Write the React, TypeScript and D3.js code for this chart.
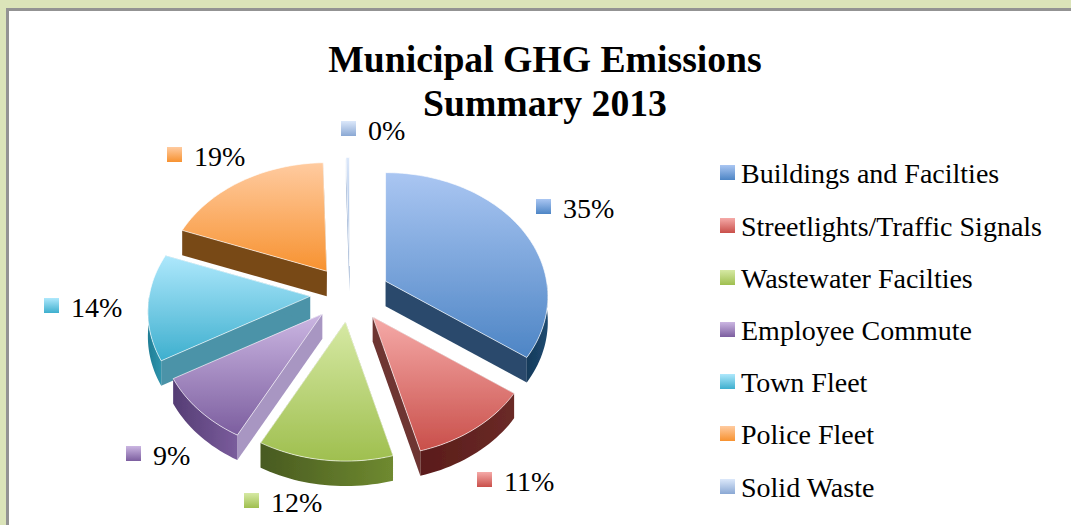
import * as d3 from 'd3';

const title = ['Municipal GHG Emissions', 'Summary 2013'];
const categories = [
  'Buildings and Facilties',
  'Streetlights/Traffic Signals',
  'Wastewater Facilties',
  'Employee Commute',
  'Town Fleet',
  'Police Fleet',
  'Solid Waste',
];
const shares = [35, 11, 12, 9, 14, 19, 0.4];

const topLight = ['#aac6f2', '#f5aaa8', '#d6e9a4', '#cbb6e2', '#aee8fc', '#ffcba0', '#dce8fa'];
const topDark = ['#4d85c5', '#c94f4a', '#9fbf4f', '#7c5e9f', '#3eafce', '#f79230', '#8aa8d4'];
const wallLight = ['#1f4a70', '#6a2a27', '#6f8a30', '#7a5c9c', '#2f94ac', '#7a4a18', '#6f8db8'];
const wallDark = ['#143a5a', '#5a1c1a', '#485a20', '#553d74', '#1f7e96', '#7a4a18', '#6f8db8'];
const cutColors = ['#2a4a6c', '#6e3432', '#5f7a2a', '#a896c2', '#4c93a8', '#784818', '#7d9ac4'];

// where the little label markers sit, same order as categories
const labelSpots = [
  [536, 199],
  [477, 472],
  [244, 493],
  [126, 446],
  [44, 298],
  [167, 147],
  [341, 121],
];
const legendRows = [165, 218, 270, 322, 374, 426, 479];

const cx = 350;
const cy = 294;
const rx = 161;
const ry = 122;
const persp = 0.124;
const explode = 40;
const depth = 25;
const serif = '"Liberation Serif", serif';

type Pt = [number, number];

const project = (a: number, r: number, ox: number, oy: number, dz = 0): Pt => {
  const v = r * Math.cos(a);
  const w = 1 / (1 + persp * v);
  return [cx + ox + rx * r * Math.sin(a) * w, cy + oy - ry * v * w + dz];
};

const line = d3.line<Pt>().curve(d3.curveLinear);

const sampleArc = (a0: number, a1: number) => {
  const n = Math.max(2, Math.ceil((a1 - a0) / 0.03));
  return d3.range(n + 1).map((i) => a0 + ((a1 - a0) * i) / n);
};

const pie = d3
  .pie<number>()
  .sort(null)
  .value((d) => d);
const arcs = pie(shares);
const total = d3.sum(shares);
const pct = d3.format('.0%');

const drawOrder = arcs
  .map((d, i) => ({ d, i, mid: (d.startAngle + d.endAngle) / 2 }))
  .sort((a, b) => Math.cos(b.mid) - Math.cos(a.mid));

const Slice = ({ d, i, mid }: { d: d3.PieArcDatum<number>; i: number; mid: number }) => {
  const ox = explode * Math.sin(mid);
  const oy = -explode * 0.7 * Math.cos(mid);
  const apex = project(0, 0, ox, oy);
  const apexLow = project(0, 0, ox, oy, depth);
  const rim = sampleArc(d.startAngle, d.endAngle).map((a) => project(a, 1, ox, oy));

  const cutFace = (a: number) =>
    line([apex, project(a, 1, ox, oy), project(a, 1, ox, oy, depth), apexLow])! + 'Z';

  const wallFrom = Math.max(d.startAngle, Math.PI / 2);
  const wallTo = Math.min(d.endAngle, (3 * Math.PI) / 2);
  let wall = '';
  if (wallTo > wallFrom) {
    const angles = sampleArc(wallFrom, wallTo);
    const upper = angles.map((a) => project(a, 1, ox, oy));
    const lower = angles.map((a) => project(a, 1, ox, oy, depth)).reverse();
    wall = line([...upper, ...lower])! + 'Z';
  }

  return (
    <g>
      <path d={cutFace(d.startAngle)} fill={cutColors[i]} />
      <path d={cutFace(d.endAngle)} fill={cutColors[i]} />
      {wall && <path d={wall} fill={`url(#wall${i})`} />}
      <path
        d={line([apex, ...rim])! + 'Z'}
        fill={`url(#top${i})`}
        stroke="#fff"
        strokeWidth={0.8}
        strokeOpacity={0.8}
      />
    </g>
  );
};

export default function App() {
  return (
    <svg
      width={1071}
      height={525}
      style={{ position: 'absolute', left: 0, top: 0, display: 'block' }}
    >
      <defs>
        {categories.map((_, i) => (
          <g key={i}>
            <linearGradient id={`top${i}`} x1="0" y1="0" x2="0" y2="1">
              <stop offset="0" stopColor={topLight[i]} />
              <stop offset="1" stopColor={topDark[i]} />
            </linearGradient>
            <linearGradient id={`wall${i}`} x1="0" y1="0" x2="1" y2="0">
              <stop offset="0" stopColor={wallDark[i]} />
              <stop offset="1" stopColor={wallLight[i]} />
            </linearGradient>
          </g>
        ))}
        <filter id="soft" x="-5%" y="-5%" width="110%" height="110%">
          <feGaussianBlur stdDeviation="0.6" />
        </filter>
      </defs>

      <rect width={1071} height={525} fill="#dbe4b9" />
      <rect x={7.5} y={9.5} width={1080} height={530} fill="#fff" stroke="#939393" strokeWidth={3} />

      <g fontFamily={serif} fontWeight="bold" fontSize={37.7} fill="#000" textAnchor="middle">
        {title.map((t, i) => (
          <text key={t} x={545} y={72 + i * 44}>
            {t}
          </text>
        ))}
      </g>

      <g filter="url(#soft)">
        {drawOrder.map((s) => (
          <Slice key={s.i} d={s.d} i={s.i} mid={s.mid} />
        ))}
      </g>

      <g fontFamily={serif} fontSize={28} fill="#000">
        {arcs.map((d, i) => (
          <g key={i}>
            <rect
              x={labelSpots[i][0]}
              y={labelSpots[i][1]}
              width={15}
              height={15}
              fill={`url(#top${i})`}
            />
            <text x={labelSpots[i][0] + 27} y={labelSpots[i][1] + 19}>
              {pct(d.value / total)}
            </text>
          </g>
        ))}
        {categories.map((c, i) => (
          <g key={c}>
            <rect x={720} y={legendRows[i]} width={15} height={15} fill={`url(#top${i})`} />
            <text x={741} y={legendRows[i] + 18}>
              {c}
            </text>
          </g>
        ))}
      </g>
    </svg>
  );
}
